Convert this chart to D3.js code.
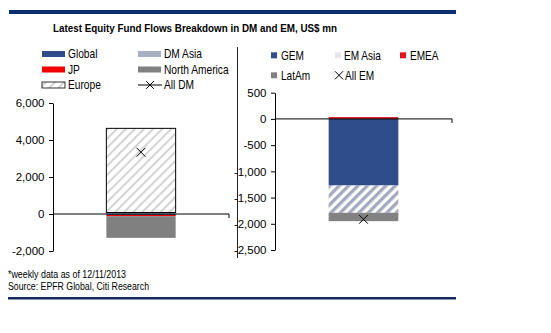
<!DOCTYPE html>
<html>
<head>
<meta charset="utf-8">
<script src="https://cdn.jsdelivr.net/npm/d3@7/dist/d3.min.js"></script>
<style>
  body { margin: 0; background: #fff; }
  svg text { font-family: "Liberation Sans", Arial, sans-serif; fill: #000; }
</style>
</head>
<body>
<svg id="chart" width="551" height="333"></svg>
<script>
// weekly fund flows, US$ mn
const dmSeries = ['Global', 'JP', 'DM Asia', 'North America', 'Europe'];
const dmValues = [-50, -70, 80, -1170, 4550];
const dmTotal = 3340;
const emSeries = ['GEM', 'EM Asia', 'EMEA', 'LatAm'];
const emValues = [-1270, -520, 35, -160];
const emTotal = -1915;
const dmTicks = [-2000, 0, 2000, 4000, 6000];
const emTicks = [-2500, -2000, -1500, -1000, -500, 0, 500];
const title = 'Latest Equity Fund Flows Breakdown in DM and EM, US$ mn';
const notes = ['*weekly data as of 12/11/2013', 'Source: EPFR Global, Citi Research'];

const colours = {
  'Global': '#2f4c8b', 'JP': '#f20000', 'DM Asia': '#a7afc3', 'North America': '#808080',
  'Europe': 'url(#hatchGrey)',
  'GEM': '#2f4c8b', 'EM Asia': 'url(#hatchBlue)', 'EMEA': '#e5141c', 'LatAm': '#828282'
};

const svg = d3.select('#chart');
svg.append('rect').attr('width', 551).attr('height', 333).attr('fill', '#fff');

const defs = svg.append('defs');
function hatch(id, colour, period, stripe) {
  const p = defs.append('pattern').attr('id', id)
    .attr('patternUnits', 'userSpaceOnUse')
    .attr('width', period).attr('height', period)
    .attr('patternTransform', 'rotate(45)');
  p.append('rect').attr('width', period).attr('height', period).attr('fill', '#fff');
  p.append('rect').attr('width', stripe).attr('height', period).attr('fill', colour);
}
hatch('hatchGrey', '#d2d2d2', 6.4, 2);
hatch('hatchBlue', '#a2a9bd', 6.6, 3.3);

const fmt = v => d3.format(',')(v).replace('\u2212', '-');

// squeezed label helper
function label(g, x, y, s, opts = {}) {
  const sx = opts.sx || 1;
  return g.append('text')
    .attr('transform', `translate(${x},${y}) scale(${sx},1)`)
    .attr('font-size', opts.size || 12)
    .attr('font-weight', opts.bold ? 'bold' : null)
    .text(s);
}

// header/footer rules
svg.append('rect').attr('x', 9).attr('y', 10).attr('width', 447).attr('height', 4).attr('fill', '#0b2d6e');
svg.append('rect').attr('x', 8).attr('y', 297).attr('width', 448).attr('height', 2.5).attr('fill', '#112a5a');

svg.append('text').attr('x', 53).attr('y', 31.5)
  .attr('font-size', 11.5).attr('font-weight', 'bold')
  .attr('textLength', 284).attr('lengthAdjust', 'spacingAndGlyphs')
  .text(title);

svg.selectAll('.note').data(notes).enter().append('text')
  .attr('class', 'note')
  .attr('x', 8).attr('y', (d, i) => 278 + i * 11.5)
  .attr('font-size', 10)
  .attr('textLength', (d, i) => [118, 141][i])
  .attr('lengthAdjust', 'spacingAndGlyphs')
  .text(d => d);

// panel divider
svg.append('line').attr('x1', 237.5).attr('x2', 237.5).attr('y1', 47).attr('y2', 258)
  .attr('stroke', '#222').attr('stroke-width', 1);

function drawPanel(cfg) {
  const row = { cat: cfg.cat };
  cfg.series.forEach((s, i) => { row[s] = cfg.values[i]; });
  const stacked = d3.stack().keys(cfg.series).offset(d3.stackOffsetDiverging)([row]);

  const x = d3.scaleBand().domain([cfg.cat]).range(cfg.xRange).padding(0.435);
  const y = d3.scaleLinear().domain(cfg.domain).range(cfg.yRange);
  const g = svg.append('g');

  g.selectAll('.layer').data(stacked).enter().append('rect')
    .attr('class', 'layer')
    .attr('x', x(cfg.cat))
    .attr('width', x.bandwidth())
    .attr('y', d => y(Math.max(d[0][0], d[0][1])))
    .attr('height', d => Math.abs(y(d[0][0]) - y(d[0][1])))
    .attr('fill', d => colours[d.key])
    .attr('stroke', d => d.key === cfg.outlined ? '#000' : 'none')
    .attr('stroke-width', 1);

  // y axis
  const ya = g.append('g')
    .attr('transform', `translate(${cfg.xRange[0]},0)`)
    .call(d3.axisLeft(y).tickValues(cfg.ticks).tickFormat(fmt).tickSize(4).tickSizeOuter(0).tickPadding(4.5));
  ya.selectAll('text').attr('font-size', 11.5).attr('font-family', '"Liberation Sans", Arial, sans-serif').attr('fill', '#000');
  ya.selectAll('line, path').attr('stroke', '#000');

  // category axis on zero
  const xa = g.append('g').attr('transform', `translate(0,${y(0)})`);
  xa.append('line').attr('x1', cfg.xRange[0]).attr('x2', cfg.xRange[1]).attr('stroke', '#000');
  xa.append('line').attr('x1', cfg.xRange[1]).attr('x2', cfg.xRange[1]).attr('y2', 4).attr('stroke', '#000');

  // total marker
  g.append('path')
    .attr('d', d3.symbol(d3.symbolX, 52)())
    .attr('transform', `translate(${x(cfg.cat) + x.bandwidth() / 2},${y(cfg.total)})`)
    .attr('stroke', '#000').attr('stroke-width', 1).attr('fill', 'none');
}

drawPanel({
  cat: 'DM', series: dmSeries, values: dmValues, total: dmTotal, outlined: 'Europe',
  xRange: [53, 229], domain: [-2000, 6000], yRange: [251, 103], ticks: dmTicks
});
drawPanel({
  cat: 'EM', series: emSeries, values: emValues, total: emTotal,
  xRange: [275, 452], domain: [-2500, 500], yRange: [250, 92.7], ticks: emTicks
});

// DM legend
const dmLegend = [
  { key: 'Global', col: 0, row: 0 }, { key: 'DM Asia', col: 1, row: 0 },
  { key: 'JP', col: 0, row: 1 }, { key: 'North America', col: 1, row: 1 },
  { key: 'Europe', col: 0, row: 2 }, { key: 'All DM', col: 1, row: 2 }
];
const lg = svg.append('g');
dmLegend.forEach(d => {
  const sx = 42 + d.col * 96, cy = 54 + d.row * 15.5;
  if (d.key === 'All DM') {
    lg.append('line').attr('x1', sx).attr('x2', sx + 24).attr('y1', cy).attr('y2', cy).attr('stroke', '#000');
    lg.append('path').attr('d', d3.symbol(d3.symbolX, 40)())
      .attr('transform', `translate(${sx + 12},${cy})`).attr('stroke', '#000').attr('fill', 'none');
  } else {
    lg.append('rect').attr('x', sx).attr('y', cy - 3).attr('width', 23).attr('height', 6)
      .attr('fill', colours[d.key])
      .attr('stroke', d.key === 'Europe' ? '#000' : 'none').attr('stroke-width', 0.8);
  }
  label(lg, sx + 26, cy + 4.3, d.key, { sx: 0.85 });
});

// EM legend
const emLegend = [
  { key: 'GEM', col: 0, row: 0 }, { key: 'EM Asia', col: 1, row: 0 }, { key: 'EMEA', col: 2, row: 0 },
  { key: 'LatAm', col: 0, row: 1 }, { key: 'All EM', col: 1, row: 1 }
];
const colX = [271, 335, 400];
emLegend.forEach(d => {
  const sx = colX[d.col], cy = 55.3 + d.row * 20;
  if (d.key === 'All EM') {
    lg.append('path').attr('d', d3.symbol(d3.symbolX, 45)())
      .attr('transform', `translate(${sx + 4},${cy})`).attr('stroke', '#000').attr('fill', 'none');
    label(lg, sx + 10, cy + 4.3, d.key, { sx: 0.84 });
  } else {
    lg.append('rect').attr('x', sx).attr('y', cy - 3).attr('width', 6).attr('height', 6)
      .attr('fill', d.key === 'EM Asia' ? '#e4e6ec' : colours[d.key]);
    label(lg, sx + (d.key === 'EM Asia' ? 9 : 10), cy + 4.3, d.key, { sx: 0.84 });
  }
});
</script>
</body>
</html>
